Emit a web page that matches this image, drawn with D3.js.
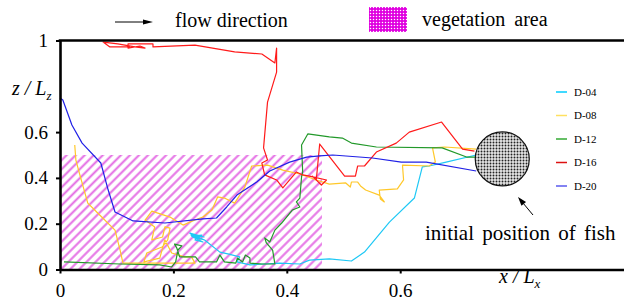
<!DOCTYPE html>
<html><head><meta charset="utf-8">
<script src="https://cdn.jsdelivr.net/npm/d3@7"></script>
<style>body{margin:0;background:#fff}svg{display:block}</style>
</head><body><svg id="c" width="624" height="305"></svg>
<script>
// ---------- data ----------
const xTicks = [0, 0.2, 0.4, 0.6, 1];
const xTickLabels = ["0", "0.2", "0.4", "0.6", ""];
const yTicks = [0, 0.2, 0.4, 0.6, 1];
const yTickLabels = ["0", "0.2", "0.4", "0.6", "1"];
const seriesNames = ["D-04", "D-08", "D-12", "D-16", "D-20"];
const vegetationX = [0, 0.462];
const vegetationY = [0, 0.5];
const fishCenter = [0.780, 0.483];

const d04 = [[0.734,0.500],[0.681,0.469],[0.651,0.452],[0.639,0.448],[0.625,0.312],[0.581,0.207],[0.537,0.076],[0.514,0.037],[0.475,0.046],[0.440,0.041],[0.423,0.024],[0.387,0.028],[0.361,0.024],[0.335,0.020],[0.312,0.033],[0.317,0.055],[0.296,0.068],[0.282,0.076],[0.255,0.129],[0.246,0.138],[0.229,0.159],[0.254,0.142],[0.231,0.151],[0.255,0.129],[0.234,0.142],[0.252,0.120],[0.238,0.129],[0.250,0.150],[0.232,0.146],[0.248,0.135],[0.230,0.152]];

const d08 = [[0.734,0.526],[0.678,0.535],[0.657,0.531],[0.662,0.469],[0.651,0.452],[0.604,0.456],[0.606,0.391],[0.595,0.352],[0.563,0.347],[0.565,0.308],[0.572,0.295],[0.563,0.325],[0.539,0.347],[0.530,0.365],[0.525,0.382],[0.514,0.382],[0.512,0.360],[0.504,0.378],[0.475,0.373],[0.452,0.391],[0.423,0.417],[0.393,0.434],[0.366,0.456],[0.338,0.452],[0.326,0.360],[0.308,0.290],[0.290,0.312],[0.278,0.317],[0.268,0.260],[0.252,0.229],[0.238,0.216],[0.217,0.194],[0.194,0.229],[0.162,0.255],[0.150,0.216],[0.167,0.186],[0.162,0.129],[0.181,0.142],[0.185,0.186],[0.194,0.181],[0.190,0.129],[0.180,0.098],[0.153,0.072],[0.148,0.033],[0.176,0.050],[0.185,0.129],[0.197,0.072],[0.220,0.055],[0.232,0.055],[0.238,0.028],[0.194,0.028],[0.132,0.028],[0.111,0.028],[0.106,0.085],[0.097,0.172],[0.070,0.238],[0.049,0.290],[0.035,0.413],[0.028,0.478],[0.026,0.544]];

const d12 = [[0.734,0.491],[0.717,0.491],[0.674,0.531],[0.558,0.535],[0.514,0.552],[0.498,0.574],[0.475,0.579],[0.437,0.592],[0.426,0.544],[0.428,0.426],[0.426,0.404],[0.423,0.312],[0.417,0.295],[0.423,0.273],[0.410,0.260],[0.391,0.203],[0.379,0.172],[0.370,0.120],[0.361,0.138],[0.364,0.116],[0.375,0.085],[0.379,0.024],[0.356,0.024],[0.335,0.028],[0.335,0.050],[0.327,0.063],[0.322,0.033],[0.313,0.050],[0.310,0.028],[0.290,0.033],[0.282,0.063],[0.276,0.033],[0.246,0.033],[0.239,0.055],[0.211,0.055],[0.206,0.094],[0.202,0.111],[0.215,0.103],[0.208,0.085],[0.204,0.033],[0.197,0.011],[0.176,0.020],[0.106,0.024],[0.007,0.033]];

const d16 = [[0.731,0.517],[0.710,0.526],[0.673,0.644],[0.616,0.600],[0.593,0.552],[0.558,0.513],[0.537,0.452],[0.525,0.452],[0.521,0.408],[0.502,0.408],[0.458,0.548],[0.452,0.391],[0.445,0.408],[0.461,0.369],[0.470,0.391],[0.440,0.408],[0.428,0.413],[0.417,0.426],[0.393,0.356],[0.382,0.391],[0.361,0.413],[0.356,0.465],[0.366,0.478],[0.359,0.531],[0.366,0.731],[0.382,0.862],[0.382,0.967],[0.379,0.902],[0.356,0.941],[0.308,0.950],[0.238,0.980],[0.164,0.972],[0.164,0.985],[0.120,0.985],[0.120,0.967],[0.141,0.976],[0.150,0.967],[0.132,0.972],[0.102,0.985],[0.076,0.993],[0.088,0.972],[0.123,0.972]];

const d20 = [[0.734,0.430],[0.646,0.469],[0.602,0.469],[0.551,0.487],[0.481,0.500],[0.458,0.496],[0.435,0.491],[0.405,0.469],[0.370,0.430],[0.347,0.382],[0.312,0.325],[0.294,0.273],[0.276,0.225],[0.252,0.221],[0.185,0.203],[0.129,0.212],[0.097,0.251],[0.085,0.347],[0.072,0.465],[0.039,0.552],[0.021,0.631],[0.005,0.740],[0.000,0.749]];

const seriesData = [d04, d08, d12, d16, d20];
const lineColors = ["#1ec8f5", "#ffc82a", "#22992a", "#ff1a1a", "#2020e6"];
const legendColors = ["#00ccff", "#ffe060", "#33aa33", "#dd1111", "#5a5aee"];

// ---------- drawing ----------
const FONT = "Liberation Serif";
const svg = d3.select("#c").attr("font-family", FONT);
const x = d3.scaleLinear().domain([0, 1]).range([60, 627]);
const y = d3.scaleLinear().domain([0, 1]).range([269.5, 40.5]);

const defs = svg.append("defs");
const hatch = defs.append("pattern").attr("id", "hatch").attr("patternUnits", "userSpaceOnUse")
  .attr("width", 6.4).attr("height", 6.4).attr("patternTransform", "rotate(45)");
hatch.append("line").attr("x1", 3.2).attr("y1", -1).attr("x2", 3.2).attr("y2", 8)
  .attr("stroke", "#e46de4").attr("stroke-width", 2);

const dots = defs.append("pattern").attr("id", "dots").attr("patternUnits", "userSpaceOnUse")
  .attr("width", 3).attr("height", 3);
dots.append("rect").attr("width", 3).attr("height", 3).attr("fill", "#e6e6e6");
dots.append("circle").attr("cx", 1.5).attr("cy", 1.5).attr("r", 0.95).attr("fill", "#222");

const vdots = defs.append("pattern").attr("id", "vdots").attr("patternUnits", "userSpaceOnUse")
  .attr("width", 3).attr("height", 3);
vdots.append("rect").attr("width", 3).attr("height", 3).attr("fill", "#e000e0");
vdots.append("circle").attr("cx", 1.5).attr("cy", 1.5).attr("r", 0.75).attr("fill", "#fff");

// vegetation area
svg.append("rect")
  .attr("x", x(vegetationX[0])).attr("y", y(vegetationY[1]))
  .attr("width", x(vegetationX[1]) - x(vegetationX[0]))
  .attr("height", y(vegetationY[0]) - y(vegetationY[1]))
  .attr("fill", "url(#hatch)");

// trajectories
const line = d3.line().x(d => x(d[0])).y(d => y(d[1]));
seriesData.forEach((s, i) => {
  svg.append("path").attr("d", line(s)).attr("fill", "none")
    .attr("stroke", lineColors[i]).attr("stroke-width", 1.2).attr("stroke-linejoin", "round");
});

// fish
svg.append("circle").attr("cx", x(fishCenter[0])).attr("cy", y(fishCenter[1])).attr("r", 27)
  .attr("fill", "url(#dots)").attr("stroke", "#111").attr("stroke-width", 1.2);

// axes
const yAxis = d3.axisLeft(y).tickValues(yTicks).tickFormat((d, i) => yTickLabels[i])
  .tickSize(4).tickSizeOuter(0).tickPadding(8);
const gy = svg.append("g").attr("transform", `translate(${x(0)},0)`).call(yAxis);
const xAxis = d3.axisBottom(x).tickValues(xTicks).tickFormat((d, i) => xTickLabels[i])
  .tickSize(4).tickSizeOuter(0).tickPadding(6);
const gx = svg.append("g").attr("transform", `translate(0,${y(0)})`).call(xAxis);
[gx, gy].forEach(g => {
  g.attr("font-family", FONT).attr("font-size", 19);
  g.select(".domain").attr("stroke", "#000").attr("stroke-width", 2.6);
  g.selectAll(".tick line").attr("stroke", "#000").attr("stroke-width", 2);
  g.selectAll(".tick text").attr("font-family", FONT).attr("font-size", 19).attr("fill", "#000");
});
gx.selectAll(".tick text").attr("dy", 0).attr("y", 27);
// frame
svg.append("line").attr("x1", x(0) - 1.3).attr("x2", x(1)).attr("y1", y(1)).attr("y2", y(1))
  .attr("stroke", "#000").attr("stroke-width", 2.6);
svg.append("line").attr("x1", x(1)).attr("x2", x(1)).attr("y1", y(1)).attr("y2", y(0))
  .attr("stroke", "#000").attr("stroke-width", 2.6);

function txt(xp, yp, size, s) {
  return svg.append("text").attr("x", xp).attr("y", yp).attr("font-family", FONT)
    .attr("font-size", size).attr("fill", "#000").text(s);
}

// axis titles
const zt = txt(12, 95, 20, null).attr("font-style", "italic");
zt.append("tspan").text("z / L");
zt.append("tspan").attr("font-size", 13).attr("dy", 5).text("z");
const xt = txt(499, 283, 20, null).attr("font-style", "italic");
xt.append("tspan").text("x / L");
xt.append("tspan").attr("font-size", 13).attr("dy", 5).text("x");

// legend
seriesNames.forEach((n, i) => {
  const ly = 92 + i * 23.5;
  svg.append("line").attr("x1", 556).attr("x2", 567).attr("y1", ly).attr("y2", ly)
    .attr("stroke", legendColors[i]).attr("stroke-width", 1.5);
  txt(574, ly, 11, n).attr("dy", "0.35em");
});

// arrows and annotations
function arrow(x1, y1, x2, y2, len, hw) {
  const a = Math.atan2(y2 - y1, x2 - x1);
  const bx = x2 - len * Math.cos(a), by = y2 - len * Math.sin(a);
  svg.append("line").attr("x1", x1).attr("y1", y1).attr("x2", bx).attr("y2", by)
    .attr("stroke", "#000").attr("stroke-width", 1);
  const px = -Math.sin(a) * hw, py = Math.cos(a) * hw;
  svg.append("polygon").attr("points", `${x2},${y2} ${bx + px},${by + py} ${bx - px},${by - py}`).attr("fill", "#000");
}
arrow(115, 22, 153, 22, 10, 2.5);
txt(175, 27, 20, "flow direction");

svg.append("rect").attr("x", 369).attr("y", 7).attr("width", 38).attr("height", 25).attr("fill", "url(#vdots)");
txt(422, 26, 20, "vegetation area").attr("word-spacing", 4);

arrow(533, 215, 518, 197, 9, 3);
txt(425, 240, 21, "initial position of fish").attr("word-spacing", 3);
</script></body></html>
